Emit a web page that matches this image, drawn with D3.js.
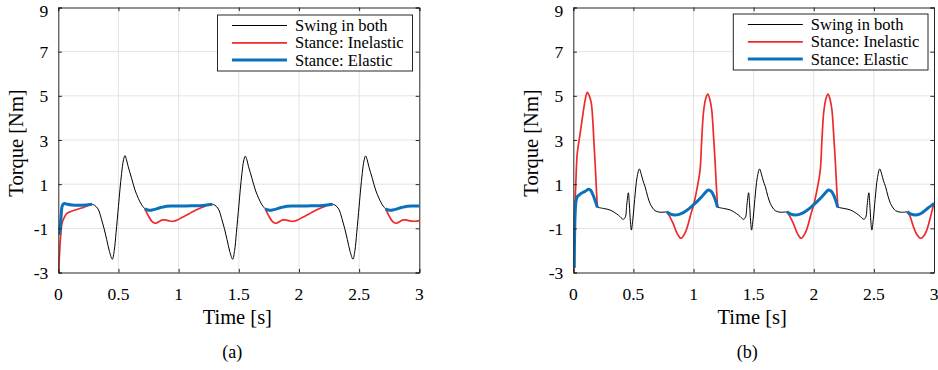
<!DOCTYPE html>
<html><head><meta charset="utf-8">
<script src="https://cdn.jsdelivr.net/npm/d3@7"></script>
<style>
body{margin:0;background:#fff}
svg{display:block}
text{font-family:"Liberation Serif","Times New Roman",serif;fill:#000}
</style>
</head><body>
<svg id="chart" width="938" height="370"></svg>
<script>
// ---------- shared labels ----------
const xTicks = [0, 0.5, 1, 1.5, 2, 2.5, 3];
const xTickLabels = ["0", "0.5", "1", "1.5", "2", "2.5", "3"];
const yTicks = [-3, -1, 1, 3, 5, 7, 9];
const yTickLabels = ["-3", "-1", "1", "3", "5", "7", "9"];
const legendLabels = ["Swing in both", "Stance: Inelastic", "Stance: Elastic"];
const panelLabels = ["(a)", "(b)"];
const xAxisTitle = "Time [s]";
const yAxisTitle = "Torque [Nm]";

// ---------- panel (a) data (null separates segments) ----------
const timeA_swing = [
  0.28,0.30,0.33,0.357,0.38,0.402,0.425,0.449,0.465,0.48,0.50,0.512,0.526,0.54,0.554,0.567,0.581,0.609,0.637,0.665,0.693,0.72, null,
  1.28,1.30,1.33,1.357,1.38,1.402,1.425,1.449,1.465,1.48,1.50,1.512,1.526,1.54,1.554,1.567,1.581,1.609,1.637,1.665,1.693,1.72, null,
  2.28,2.30,2.33,2.357,2.38,2.402,2.425,2.449,2.465,2.48,2.50,2.512,2.526,2.54,2.554,2.567,2.581,2.609,2.637,2.665,2.693,2.72];
const torqueA_swing = [
  0.09,0.05,-0.12,-0.55,-1.0,-1.5,-2.05,-2.4,-2.0,-1.2,0.0,0.74,1.49,2.05,2.29,2.1,1.79,1.27,0.74,0.36,0.06,-0.12, null,
  0.09,0.05,-0.12,-0.55,-1.0,-1.5,-2.05,-2.4,-2.0,-1.2,0.0,0.74,1.49,2.05,2.27,2.1,1.79,1.27,0.74,0.36,0.06,-0.12, null,
  0.09,0.05,-0.12,-0.55,-1.0,-1.5,-2.05,-2.4,-2.0,-1.2,0.0,0.74,1.49,2.05,2.28,2.1,1.79,1.27,0.74,0.36,0.06,-0.12];

const timeA_inelastic = [
  0.004,0.008,0.017,0.031,0.05,0.072,0.1,0.141,0.18,0.211,0.245,0.274,0.28, null,
  0.72,0.75,0.78,0.804,0.83,0.86,0.887,0.92,0.956,0.99,1.03,1.067,1.1,1.14,1.178,1.22,1.26,1.28, null,
  1.72,1.75,1.78,1.804,1.83,1.86,1.887,1.92,1.956,1.99,2.03,2.067,2.1,2.14,2.178,2.22,2.26,2.28, null,
  2.72,2.75,2.78,2.804,2.83,2.86,2.887,2.92,2.956,2.98,3.0];
const torqueA_inelastic = [
  -3,-2.4,-1.53,-0.77,-0.5,-0.32,-0.25,-0.17,-0.1,-0.05,0.02,0.09,0.09, null,
  -0.12,-0.45,-0.7,-0.77,-0.72,-0.63,-0.62,-0.66,-0.68,-0.62,-0.5,-0.4,-0.3,-0.18,-0.09,0.0,0.1,0.09, null,
  -0.12,-0.45,-0.7,-0.77,-0.72,-0.63,-0.62,-0.66,-0.68,-0.62,-0.5,-0.4,-0.3,-0.18,-0.09,0.0,0.1,0.09, null,
  -0.12,-0.45,-0.7,-0.77,-0.72,-0.63,-0.62,-0.66,-0.68,-0.67,-0.65];

const timeA_elastic = [
  0.012,0.017,0.024,0.031,0.042,0.053,0.075,0.114,0.17,0.224,0.26,0.28, null,
  0.72,0.745,0.77,0.8,0.85,0.9,0.95,1.0,1.1,1.2,1.28, null,
  1.72,1.745,1.77,1.8,1.85,1.9,1.95,2.0,2.1,2.2,2.28, null,
  2.72,2.745,2.77,2.8,2.85,2.9,2.95,3.0];
const torqueA_elastic = [
  -1.3,-0.93,-0.4,-0.02,0.1,0.13,0.09,0.06,0.05,0.06,0.08,0.09, null,
  -0.12,-0.17,-0.18,-0.14,-0.06,0.0,0.01,0.01,0.02,0.03,0.09, null,
  -0.12,-0.17,-0.18,-0.14,-0.06,0.0,0.01,0.01,0.02,0.03,0.09, null,
  -0.12,-0.17,-0.18,-0.14,-0.06,0.0,0.01,0.01];

// ---------- panel (b) data ----------
const timeB_swing = [
  0.2,0.25,0.305,0.374,0.416,0.432,0.445,0.458,0.466,0.475,0.483,0.495,0.51,0.53,0.549,0.565,0.58,0.597,0.618,0.638,0.66,0.68,0.721,0.777, null,
  1.2,1.25,1.305,1.374,1.416,1.432,1.445,1.458,1.466,1.475,1.483,1.495,1.51,1.53,1.549,1.565,1.58,1.597,1.618,1.638,1.66,1.68,1.721,1.777, null,
  2.2,2.25,2.305,2.374,2.416,2.432,2.445,2.458,2.466,2.475,2.483,2.495,2.51,2.53,2.549,2.565,2.58,2.597,2.618,2.638,2.66,2.68,2.721,2.777];
const torqueB_swing = [
  -0.05,-0.1,-0.17,-0.4,-0.59,-0.5,0.1,0.61,0.1,-0.7,-1.08,-0.6,0.3,1.3,1.69,1.45,1.15,0.89,0.45,0.13,-0.08,-0.2,-0.27,-0.25, null,
  -0.05,-0.1,-0.17,-0.4,-0.59,-0.5,0.1,0.61,0.1,-0.7,-1.08,-0.6,0.3,1.3,1.69,1.45,1.15,0.89,0.45,0.13,-0.08,-0.2,-0.27,-0.25, null,
  -0.05,-0.1,-0.17,-0.4,-0.59,-0.5,0.1,0.61,0.1,-0.7,-1.08,-0.6,0.3,1.3,1.69,1.45,1.15,0.89,0.45,0.13,-0.08,-0.2,-0.27,-0.25];

const timeB_inelastic = [
  0.004,0.006,0.012,0.02,0.033,0.053,0.081,0.1,0.116,0.133,0.15,0.162,0.172,0.182,0.191,0.2, null,
  0.777,0.80,0.832,0.865,0.896,0.93,0.957,0.98,1.0,1.027,1.054,1.068,1.082,1.1,1.118,1.135,1.151,1.165,1.18,1.19,1.2, null,
  1.777,1.80,1.832,1.865,1.896,1.93,1.957,1.98,2.0,2.027,2.054,2.068,2.082,2.1,2.118,2.135,2.151,2.165,2.18,2.19,2.2, null,
  2.777,2.80,2.829,2.86,2.89,2.915,2.94,2.97,3.0];
const torqueB_inelastic = [
  -3,-2.0,-0.3,0.9,2.4,3.15,4.21,4.85,5.16,5.0,4.66,3.9,2.85,1.9,0.89,-0.05, null,
  -0.25,-0.45,-0.8,-1.25,-1.45,-1.2,-0.77,-0.3,0.06,0.74,1.64,3.0,4.21,4.85,5.08,4.85,4.36,3.3,1.95,0.9,-0.05, null,
  -0.25,-0.45,-0.8,-1.25,-1.45,-1.2,-0.77,-0.3,0.06,0.74,1.64,3.0,4.21,4.85,5.08,4.85,4.36,3.3,1.95,0.9,-0.05, null,
  -0.25,-0.45,-0.93,-1.3,-1.45,-1.35,-1.08,-0.5,0.15];

const timeB_elastic = [
  0.008,0.022,0.033,0.05,0.067,0.1,0.128,0.145,0.164,0.185,0.2, null,
  0.777,0.81,0.846,0.88,0.915,0.96,0.998,1.03,1.068,1.1,1.123,1.145,1.165,1.18,1.2, null,
  1.777,1.81,1.846,1.88,1.915,1.96,1.998,2.03,2.068,2.1,2.123,2.145,2.165,2.18,2.2, null,
  2.777,2.81,2.843,2.88,2.912,2.95,2.98,3.0];
const torqueB_elastic = [
  -2.8,0.2,0.43,0.52,0.59,0.68,0.77,0.72,0.51,0.2,-0.05, null,
  -0.25,-0.36,-0.40,-0.37,-0.29,-0.12,0.06,0.22,0.43,0.63,0.74,0.68,0.51,0.3,-0.05, null,
  -0.25,-0.36,-0.40,-0.37,-0.29,-0.12,0.06,0.22,0.43,0.63,0.74,0.68,0.51,0.3,-0.05, null,
  -0.25,-0.36,-0.40,-0.36,-0.25,-0.08,0.04,0.13];

// ---------- styles ----------
const seriesStyles = [
  {color: "#000000", width: 1.0},
  {color: "#ee2a2a", width: 1.7},
  {color: "#0a72ba", width: 3.0}
];
const axisColor = "#262626";
const gridColor = "#e3e3e3";

const panels = [
  {left: 58.3, right: 419.3, yTitleX: 23, legend: {x: 217.5, y: 15, w: 195, h: 56}, label: panelLabels[0],
   series: [[timeA_swing, torqueA_swing], [timeA_inelastic, torqueA_inelastic], [timeA_elastic, torqueA_elastic]]},
  {left: 573.3, right: 934, yTitleX: 538, legend: {x: 733.3, y: 14, w: 194.7, h: 56}, label: panelLabels[1],
   series: [[timeB_swing, torqueB_swing], [timeB_inelastic, torqueB_inelastic], [timeB_elastic, torqueB_elastic]]}
];
const plotTop = 7.5, plotBottom = 272.5;

const svg = d3.select("#chart");
svg.append("rect").attr("width", 938).attr("height", 370).attr("fill", "#fff");

panels.forEach((p, pi) => {
  const x = d3.scaleLinear().domain([0, 3]).range([p.left, p.right]);
  const y = d3.scaleLinear().domain([-3, 9]).range([plotBottom, plotTop]);
  const g = svg.append("g");

  // grid
  g.append("g").selectAll("line").data(xTicks.slice(1, -1)).join("line")
    .attr("x1", d => x(d)).attr("x2", d => x(d)).attr("y1", plotTop).attr("y2", plotBottom)
    .attr("stroke", gridColor).attr("stroke-width", 1);
  g.append("g").selectAll("line").data(yTicks.slice(1, -1)).join("line")
    .attr("y1", d => y(d)).attr("y2", d => y(d)).attr("x1", p.left).attr("x2", p.right)
    .attr("stroke", gridColor).attr("stroke-width", 1);

  // clip
  const clipId = "clip" + pi;
  svg.append("clipPath").attr("id", clipId).append("rect")
    .attr("x", p.left).attr("y", plotTop).attr("width", p.right - p.left).attr("height", plotBottom - plotTop);

  const line = d3.line()
    .defined(d => d.v !== null)
    .x(d => x(d.t)).y(d => y(d.v))
    .curve(d3.curveCatmullRom.alpha(0.5));

  const lg = g.append("g").attr("clip-path", `url(#${clipId})`);
  p.series.forEach((s, si) => {
    const pts = s[0].map((t, i) => ({t: t, v: s[1][i]}));
    lg.append("path").datum(pts).attr("d", line)
      .attr("fill", "none").attr("stroke", seriesStyles[si].color)
      .attr("stroke-width", seriesStyles[si].width)
      .attr("stroke-linejoin", "round").attr("stroke-linecap", "butt");
  });

  // axes (ticks inward, box)
  const tickLen = 3.6;
  const axB = d3.axisBottom(x).tickValues(xTicks).tickSize(-tickLen).tickFormat("");
  const axT = d3.axisTop(x).tickValues(xTicks).tickSize(-tickLen).tickFormat("");
  const axL = d3.axisLeft(y).tickValues(yTicks).tickSize(-tickLen).tickFormat("");
  const axR = d3.axisRight(y).tickValues(yTicks).tickSize(-tickLen).tickFormat("");
  [[axB, `translate(0,${plotBottom})`], [axT, `translate(0,${plotTop})`], [axL, `translate(${p.left},0)`], [axR, `translate(${p.right},0)`]]
    .forEach(([ax, tr]) => {
      const a = g.append("g").attr("transform", tr).call(ax);
      a.select(".domain").attr("stroke", axisColor).attr("stroke-width", 1);
      a.selectAll(".tick line").attr("stroke", axisColor).attr("stroke-width", 1);
    });

  // tick labels
  g.append("g").selectAll("text").data(xTicks).join("text")
    .attr("x", d => x(d)).attr("y", 300).attr("text-anchor", "middle")
    .attr("font-size", 17.5).text((d, i) => xTickLabels[i]);
  g.append("g").selectAll("text").data(yTicks).join("text")
    .attr("x", p.left - 10).attr("y", d => Math.max(y(d) + 6.5, 16.5)).attr("text-anchor", "end")
    .attr("font-size", 17.5).text((d, i) => yTickLabels[i]);

  // axis titles
  g.append("text").attr("x", (p.left + p.right) / 2 - 1.5).attr("y", 324)
    .attr("text-anchor", "middle").attr("font-size", 20.5).text(xAxisTitle);
  g.append("text").attr("transform", `translate(${p.yTitleX},143) rotate(-90)`)
    .attr("text-anchor", "middle").attr("font-size", 20.5).text(yAxisTitle);

  // panel label
  g.append("text").attr("x", (p.left + p.right) / 2 - 6.5).attr("y", 358)
    .attr("text-anchor", "middle").attr("font-size", 18).text(p.label);

  // legend
  const L = p.legend;
  const leg = g.append("g");
  leg.append("rect").attr("x", L.x).attr("y", L.y).attr("width", L.w).attr("height", L.h)
    .attr("fill", "#fff").attr("stroke", axisColor).attr("stroke-width", 1);
  legendLabels.forEach((lab, i) => {
    const ly = L.y + 10.5 + i * 17.3;
    leg.append("line").attr("x1", L.x + 14.5).attr("x2", L.x + 69.5).attr("y1", ly).attr("y2", ly)
      .attr("stroke", seriesStyles[i].color).attr("stroke-width", seriesStyles[i].width);
    leg.append("text").attr("x", L.x + 77.5).attr("y", ly + 5.5).attr("font-size", 16.5).text(lab);
  });
});
</script>
</body></html>
